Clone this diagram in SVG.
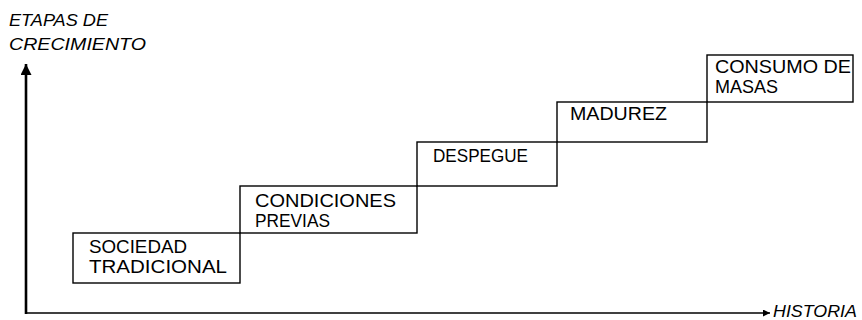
<svg xmlns="http://www.w3.org/2000/svg" width="862" height="320" viewBox="0 0 862 320">
<style>
.box{fill:none;stroke:#000;stroke-width:1.4}
.t{font-family:"Liberation Sans",Arial,sans-serif;font-size:17.5px;fill:#000}
.ax{font-family:"Liberation Sans",Arial,sans-serif;font-size:17px;font-style:italic;fill:#000}
.axis{stroke:#000;fill:none}
</style>
<defs>
<marker id="ah" viewBox="0 0 10 10" refX="10" refY="5" markerWidth="15" markerHeight="7" markerUnits="userSpaceOnUse" orient="auto">
<path d="M0,0 L10,5 L0,10 Z" fill="#000"/>
</marker>
<marker id="ahv" viewBox="0 0 10 10" refX="10" refY="5" markerWidth="12" markerHeight="11" markerUnits="userSpaceOnUse" orient="auto">
<path d="M0,0 L10,5 L0,10 Z" fill="#000"/>
</marker>
</defs>
<rect width="862" height="320" fill="#fff"/>
<g id="axis-labels">
<text class="ax" x="9" y="26" textLength="99" lengthAdjust="spacingAndGlyphs">ETAPAS DE</text>
<text class="ax" x="9" y="50" textLength="137" lengthAdjust="spacingAndGlyphs">CRECIMIENTO</text>
<text class="ax" x="773" y="317" textLength="84" lengthAdjust="spacingAndGlyphs">HISTORIA</text>
</g>
<g id="connectors">
<line class="axis" x1="26" y1="314" x2="26" y2="64" stroke-width="2.6" marker-end="url(#ahv)"/>
<line class="axis" x1="25" y1="313" x2="770" y2="313" stroke-width="1.5" marker-end="url(#ah)"/>
</g>
<g id="sociedad-tradicional">
<rect class="box" x="73" y="233" width="167" height="50"/>
<text class="t" x="89" y="253" textLength="98" lengthAdjust="spacingAndGlyphs">SOCIEDAD</text>
<text class="t" x="89" y="273" textLength="138" lengthAdjust="spacingAndGlyphs">TRADICIONAL</text>
</g>
<g id="condiciones-previas">
<rect class="box" x="240" y="186" width="177" height="47"/>
<text class="t" x="255" y="207" textLength="141" lengthAdjust="spacingAndGlyphs">CONDICIONES</text>
<text class="t" x="255" y="227" textLength="75" lengthAdjust="spacingAndGlyphs">PREVIAS</text>
</g>
<g id="despegue">
<rect class="box" x="417" y="142" width="140" height="44"/>
<text class="t" x="433" y="162" textLength="95" lengthAdjust="spacingAndGlyphs">DESPEGUE</text>
</g>
<g id="madurez">
<rect class="box" x="557" y="102" width="150" height="40"/>
<text class="t" x="570" y="120" textLength="97" lengthAdjust="spacingAndGlyphs">MADUREZ</text>
</g>
<g id="consumo-de-masas">
<rect class="box" x="707" y="55" width="146" height="47"/>
<text class="t" x="715" y="73" textLength="136" lengthAdjust="spacingAndGlyphs">CONSUMO DE</text>
<text class="t" x="715" y="93" textLength="63" lengthAdjust="spacingAndGlyphs">MASAS</text>
</g>
</svg>
